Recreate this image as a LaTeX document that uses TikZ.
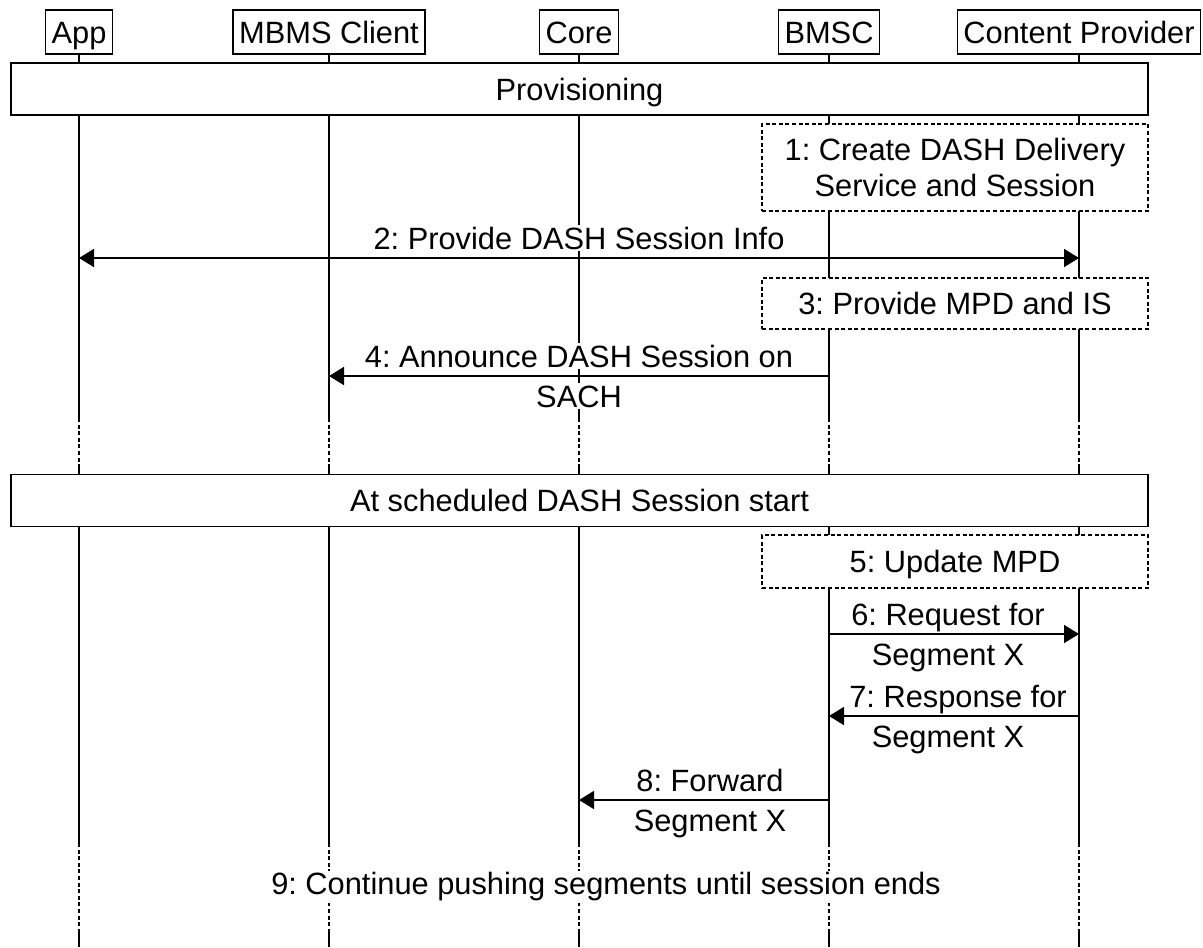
\documentclass[tikz,border=0pt]{standalone}
\usepackage{fontspec}
\setmainfont{Liberation Sans}
\usetikzlibrary{arrows.meta}
\frenchspacing

\begin{document}
\begin{tikzpicture}[x=0.5pt, y=-0.5pt,
  every node/.style={font=\fontsize{15.4}{18}\selectfont},
  actor/.style={draw, line width=0.8pt, anchor=north, inner xsep=3pt, inner ysep=0pt, text height=17pt, text depth=5pt},
  life/.style={line width=0.9pt},
  broken/.style={dash pattern=on 2pt off 1.3pt},
  oneline/.style={text height=11pt, text depth=0pt},
  phase/.style={draw, line width=0.8pt, fill=white, minimum width=568.5pt, minimum height=26pt, oneline},
  note/.style={draw, line width=0.8pt, broken, fill=white, minimum width=193pt, align=center},
  msg/.style={line width=0.9pt, -{Triangle[length=7.5pt, width=9pt]}},
  labup/.style={midway, anchor=base, yshift=4.5pt, fill=white, inner sep=1pt},
  labdown/.style={midway, anchor=base, yshift=-15.5pt, fill=white, inner sep=1pt}]
\useasboundingbox (0,0) rectangle (1203,947);
\node[actor] (app) at (79,9) {App};
\node[actor] (mbms) at (329,9) {MBMS Client};
\node[actor] (core) at (579,9) {Core};
\node[actor] (bmsc) at (829,9) {BMSC};
\node[actor] (cp) at (1079,9) {Content Provider};
\foreach \n in {app,mbms,core,bmsc,cp}{
  \draw[life] (\n.south) -- (\n |- 0,418);
  \draw[life,broken] (\n |- 0,418) -- (\n |- 0,466);
  \draw[life] (\n |- 0,466) -- (\n |- 0,843);
  \draw[life,broken] (\n |- 0,843) -- (\n |- 0,933);
  \draw[life] (\n |- 0,933) -- (\n |- 0,947);
}
\node[phase] (prov) at (579.5,89) {Provisioning};
\node[note, minimum height=43.5pt] (create) at (955,167.5) {1: Create DASH Delivery\\Service and Session};
\coordinate (app2) at (79,258);
\coordinate (cp2) at (1079,258);
\path[msg, {Triangle[length=7.5pt, width=9pt]}-{Triangle[length=7.5pt, width=9pt]}] (app2) edge node[labup] {2: Provide DASH Session Info} (cp2);
\node[note, oneline, minimum height=25.5pt] (mpd) at (955,303.5) {3: Provide MPD and IS};
\coordinate (bmsc4) at (829,376);
\coordinate (mbms4) at (329,376);
\path[msg] (bmsc4) edge node[labup] {4: Announce DASH Session on} node[labdown] {SACH} (mbms4);
\node[phase] (start) at (579.5,500.5) {At scheduled DASH Session start};
\node[note, oneline, minimum height=26.5pt] (update) at (955,561.5) {5: Update MPD};
\coordinate (bmsc6) at (829,634);
\coordinate (cp6) at (1079,634);
\path[msg] (bmsc6) edge node[labup, xshift=-3pt] {6: Request for} node[labdown, xshift=-3pt] {Segment X} (cp6);
\coordinate (cp7) at (1079,716);
\coordinate (bmsc7) at (829,716);
\path[msg] (cp7) edge node[labup, xshift=2pt] {7: Response for} node[labdown, xshift=-3pt] {Segment X} (bmsc7);
\coordinate (bmsc8) at (829,800);
\coordinate (core8) at (579,800);
\path[msg] (bmsc8) edge node[labup, xshift=3pt] {8: Forward} node[labdown, xshift=3pt] {Segment X} (core8);
\node[fill=white, inner sep=1pt] (cont) at (606,887) {9: Continue pushing segments until session ends};
\end{tikzpicture}
\end{document}
